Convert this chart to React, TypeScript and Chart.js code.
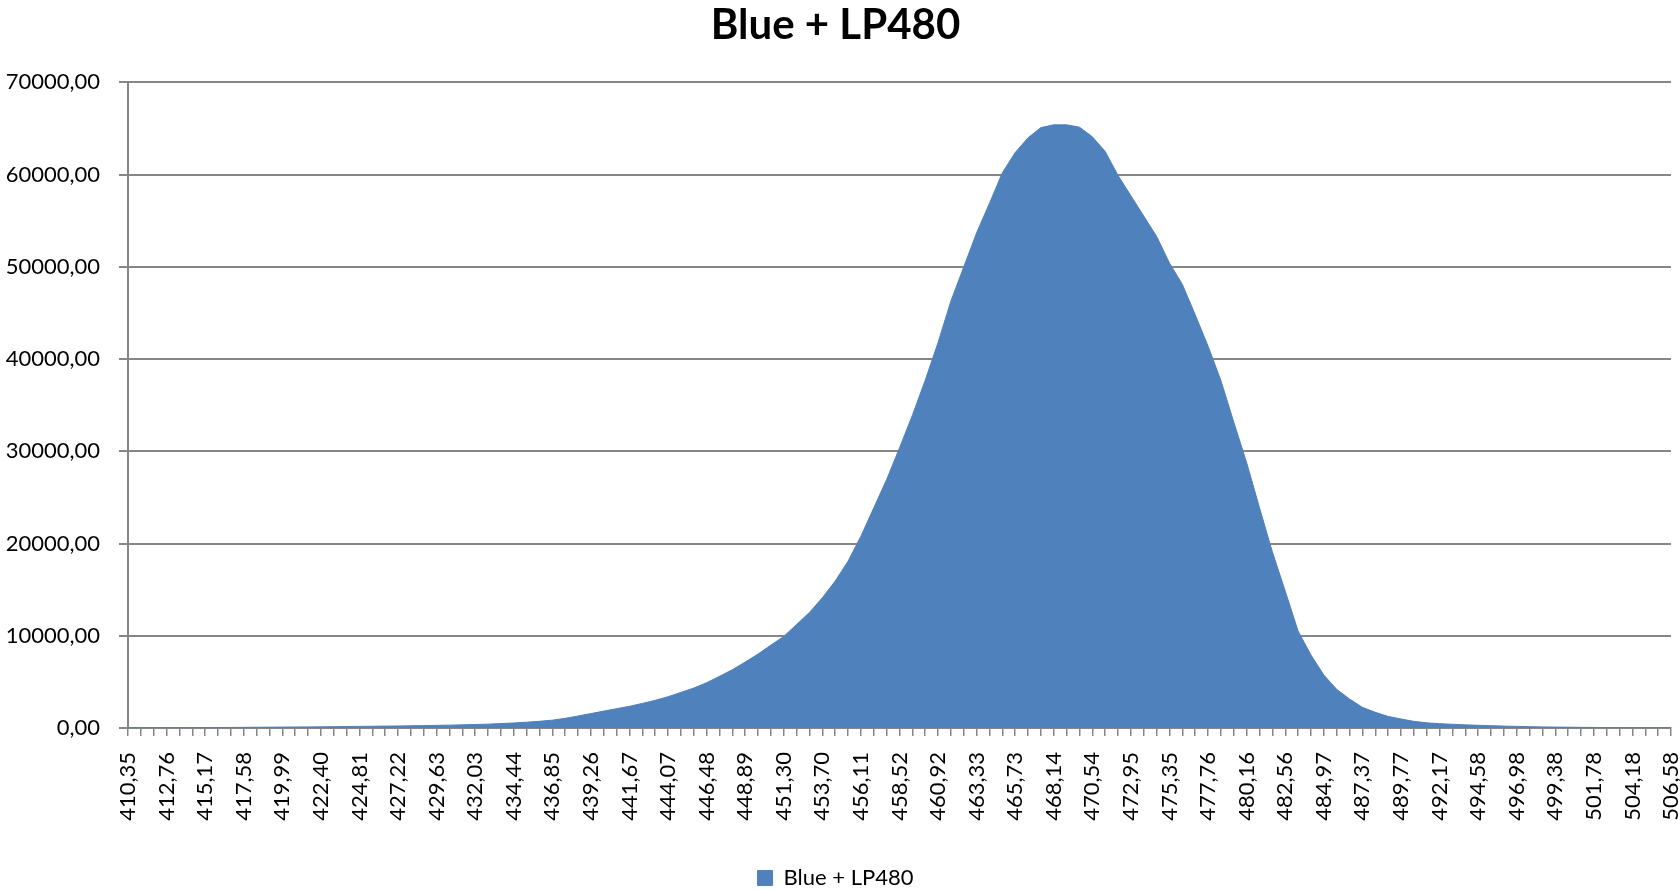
import React, { useEffect, useRef } from "react";
import { Chart, registerables } from "chart.js";

Chart.register(...registerables);

const TITLE = "Blue + LP480";
const SERIES_NAME = "Blue + LP480";

// Wavelength categories (nm), shown with a decimal comma; every 3rd one is labelled
const WAVELENGTHS = [
  "410,35", "411,15", "411,96",
  "412,76", "413,56", "414,37",
  "415,17", "415,97", "416,78",
  "417,58", "418,38", "419,19",
  "419,99", "420,79", "421,60",
  "422,40", "423,20", "424,01",
  "424,81", "425,61", "426,42",
  "427,22", "428,02", "428,83",
  "429,63", "430,43", "431,23",
  "432,03", "432,83", "433,64",
  "434,44", "435,24", "436,05",
  "436,85", "437,65", "438,46",
  "439,26", "440,06", "440,87",
  "441,67", "442,47", "443,27",
  "444,07", "444,87", "445,68",
  "446,48", "447,28", "448,09",
  "448,89", "449,69", "450,50",
  "451,30", "452,10", "452,90",
  "453,70", "454,50", "455,31",
  "456,11", "456,91", "457,72",
  "458,52", "459,32", "460,12",
  "460,92", "461,72", "462,53",
  "463,33", "464,13", "464,93",
  "465,73", "466,53", "467,34",
  "468,14", "468,94", "469,74",
  "470,54", "471,34", "472,15",
  "472,95", "473,75", "474,55",
  "475,35", "476,15", "476,96",
  "477,76", "478,56", "479,36",
  "480,16", "480,96", "481,76",
  "482,56", "483,36", "484,17",
  "484,97", "485,77", "486,57",
  "487,37", "488,17", "488,97",
  "489,77", "490,57", "491,37",
  "492,17", "492,97", "493,78",
  "494,58", "495,38", "496,18",
  "496,98", "497,78", "498,58",
  "499,38", "500,18", "500,98",
  "501,78", "502,58", "503,38",
  "504,18", "504,98", "505,78",
  "506,58",
];

// Intensity values
const INTENSITY = [
  20, 25, 30, 35, 40, 45, 50, 55, 60, 70,
  80, 90, 100, 110, 120, 130, 145, 160, 175, 190,
  205, 220, 240, 260, 285, 310, 340, 380, 420, 480,
  550, 630, 730, 850, 1050, 1300, 1560, 1830, 2095, 2350,
  2670, 3000, 3390, 3860, 4330, 4910, 5600, 6320, 7150, 8020,
  8990, 9930, 11230, 12530, 14120, 15930, 18090, 20800, 23870, 26940,
  30370, 33900, 37700, 41800, 46300, 50000, 53700, 56900, 60200, 62400,
  64000, 65100, 65400, 65400, 65150, 64100, 62500, 59900, 57700, 55500,
  53300, 50400, 48100, 44800, 41400, 37650, 33150, 28750, 23870, 19080,
  14840, 10510, 7910, 5740, 4190, 3140, 2240, 1700, 1260, 975,
  720, 560, 470, 400, 340, 290, 250, 210, 175, 145,
  120, 100, 85, 70, 60, 50, 45, 40, 35, 30,
  25,
];

const Y_MIN = 0;
const Y_MAX = 70000;
const Y_STEP = 10000;
const LABEL_EVERY = 3;

const FONT = "Lato";
const AREA_COLOR = "#4F81BD";
const AXIS_COLOR = "#868686";

export default function App() {
  const ref = useRef<HTMLCanvasElement>(null);

  useEffect(() => {
    document.body.style.margin = "0";
    const canvas = ref.current;
    if (!canvas) return;
    const chart = new Chart(canvas, {
      type: "line",
      data: {
        labels: WAVELENGTHS,
        datasets: [
          {
            label: SERIES_NAME,
            data: INTENSITY,
            fill: "origin",
            backgroundColor: AREA_COLOR,
            borderColor: AREA_COLOR,
            borderWidth: 1,
            pointRadius: 0,
            tension: 0,
          },
        ],
      },
      options: {
        animation: false,
        responsive: false,
        devicePixelRatio: 1,
        layout: { padding: { left: 0, right: 9, top: 0, bottom: -9 } },
        plugins: {
          title: {
            display: true,
            text: TITLE,
            color: "#000",
            font: { family: FONT, size: 42, weight: "bold" },
            padding: { top: 0, bottom: 32 },
          },
          legend: {
            position: "bottom",
            labels: {
              boxWidth: 15,
              boxHeight: 15,
              color: "#000",
              font: { family: FONT, size: 22 },
              padding: 0,
            },
          },
          tooltip: { enabled: false },
        },
        scales: {
          x: {
            type: "category",
            offset: false,
            afterFit: (s: any) => {
              s.height = 139;
              s.paddingRight = 9;
            },
            grid: {
              drawOnChartArea: false,
              drawTicks: true,
              tickLength: 8,
              color: AXIS_COLOR,
              lineWidth: 1.5,
            },
            border: { color: AXIS_COLOR, width: 2 },
            ticks: {
              autoSkip: false,
              maxRotation: 90,
              minRotation: 90,
              padding: 16,
              color: "#000",
              font: { family: FONT, size: 22 },
              callback: (_v: any, i: number) => (i % LABEL_EVERY === 0 ? WAVELENGTHS[i] : ""),
            },
          },
          y: {
            min: Y_MIN,
            max: Y_MAX,
            afterFit: (s: any) => {
              s.width = 128;
            },
            grid: { color: AXIS_COLOR, lineWidth: 2, tickLength: 9 },
            border: { color: AXIS_COLOR, width: 2 },
            ticks: {
              stepSize: Y_STEP,
              padding: 19,
              color: "#000",
              font: { family: FONT, size: 22 },
              callback: (v: any) => Number(v).toFixed(2).replace(".", ","),
            },
          },
        },
      },
    });
    return () => chart.destroy();
  }, []);

  return (
    <div style={{ width: 1680, height: 890, background: "#fff" }}>
      <canvas ref={ref} width={1680} height={890} />
    </div>
  );
}
